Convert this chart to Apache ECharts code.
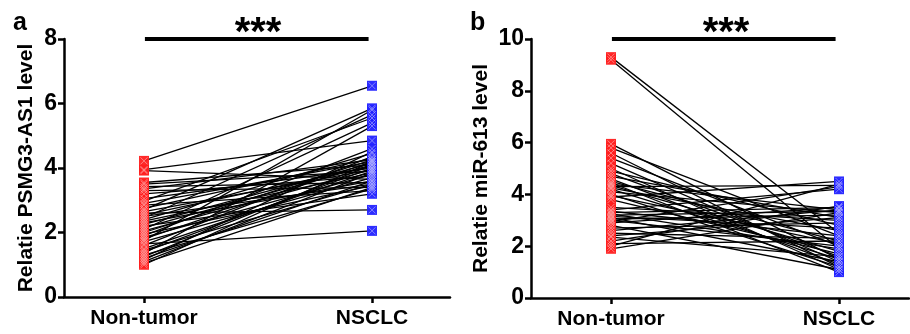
<!DOCTYPE html>
<html>
<head>
<meta charset="utf-8">
<script src="https://cdn.jsdelivr.net/npm/echarts@6/dist/echarts.min.js"></script>
<style>
  html, body { margin: 0; padding: 0; background: #fff; }
  #chart { width: 910px; height: 334px; }
</style>
</head>
<body>
<div id="chart"></div>
<script>
// group labels on the x axis
var groups = ['Non-tumor', 'NSCLC']

// panel a: PSMG3-AS1, paired values (same index = same patient)
var nonTumorA = [4.22, 3.95, 3.92, 3.55, 3.5, 3.42, 3.35, 3.3, 3.2, 3.05, 2.97, 2.9, 2.85, 2.75, 2.7, 2.65,
  2.6, 2.55, 2.5, 2.45, 2.4, 2.35, 2.3, 2.25, 2.2, 2.15, 2.1, 2.05, 2.0, 1.95, 1.9, 1.85, 1.8, 1.75,
  1.72, 1.65, 1.6, 1.5, 1.45, 1.4, 1.35, 1.3, 1.25, 1.2, 1.15, 1.1, 1.05, 1.0]
var nsclcA = [6.55, 4.85, 3.65, 4.1, 3.9, 3.55, 4.25, 3.4, 3.75, 4.0, 5.55, 4.2, 3.3, 4.3, 5.85, 3.95,
  2.7, 4.05, 3.5, 5.65, 4.45, 3.85, 3.6, 4.15, 3.2, 4.1, 5.4, 3.95, 4.25, 3.45, 4.6, 3.8, 4.2, 5.8,
  3.7, 2.05, 4.35, 3.9, 3.5, 4.0, 5.3, 3.35, 4.1, 3.6, 4.5, 3.85, 3.4, 4.2]

// panel b: miR-613
var nonTumorB = [9.3, 9.2, 5.95, 5.8, 5.6, 5.4, 5.2, 5.0, 4.9, 4.8, 4.7, 4.6, 4.5, 4.45, 4.4, 4.35,
  4.3, 4.25, 4.2, 4.1, 4.0, 3.95, 3.9, 3.8, 3.5, 3.4, 3.35, 3.3, 3.25, 3.2, 3.15, 3.1, 3.05, 3.0,
  2.95, 2.9, 2.8, 2.7, 2.6, 2.5, 2.4, 2.35, 2.2, 2.1, 2.0, 1.9]
var nsclcB = [2.5, 1.9, 1.5, 2.4, 1.2, 2.0, 1.4, 1.1, 2.8, 1.6, 3.1, 1.3, 2.2, 1.0, 3.4, 1.8,
  4.35, 2.6, 1.5, 3.3, 1.2, 2.1, 4.5, 1.7, 3.0, 4.2, 2.4, 3.5, 1.9, 3.35, 2.7, 1.4, 3.2, 2.0,
  4.3, 3.5, 1.1, 2.9, 3.4, 2.3, 3.1, 1.6, 3.55, 2.2, 4.4, 3.3]

var yTicksA = [0, 2, 4, 6, 8]
var yTicksB = [0, 2, 4, 6, 8, 10]

var FONT = 'Liberation Sans'
var RED = '#ff1f1f'
var BLUE = '#2222ff'

var chart = echarts.init(document.getElementById('chart'), null, { renderer: 'canvas' })

function xAxisFor(idx, max) {
  return {
    type: 'value',
    gridIndex: idx,
    min: -0.3509,
    max: max,
    splitLine: { show: false },
    axisLine: { show: true, onZero: false, lineStyle: { color: '#000', width: 2.5 } },
    axisTick: { show: true, customValues: [0, 1], length: 6, lineStyle: { color: '#000', width: 2.5 } },
    axisLabel: {
      customValues: [0, 1],
      margin: 11,
      color: '#000',
      fontFamily: FONT,
      fontWeight: 'bold',
      fontSize: 21,
      formatter: function (v) { return groups[Math.round(v)] }
    }
  }
}

function yAxisFor(idx, ticks, name, gap) {
  return {
    type: 'value',
    gridIndex: idx,
    min: 0,
    max: ticks[ticks.length - 1],
    interval: 2,
    name: name,
    nameLocation: 'middle',
    nameGap: gap,
    nameTextStyle: { color: '#000', fontFamily: FONT, fontWeight: 'bold', fontSize: 21 },
    splitLine: { show: false },
    axisLine: { show: true, onZero: false, lineStyle: { color: '#000', width: 2.5 } },
    axisTick: { show: true, length: 6, lineStyle: { color: '#000', width: 2.5 } },
    axisLabel: { margin: 7, color: '#000', fontFamily: FONT, fontWeight: 'bold', fontSize: 23 }
  }
}

// one thin black line per patient
function pairLines(idx, a, b) {
  return a.map(function (v, i) {
    return {
      type: 'line',
      xAxisIndex: idx,
      yAxisIndex: idx,
      data: [[0, v], [1, b[i]]],
      symbol: 'none',
      silent: true,
      z: 2,
      lineStyle: { color: '#000', width: 1.3 }
    }
  })
}

// square marker with an X inside
function markers(idx, x, vals, color, crossColor) {
  var pts = vals.map(function (v) { return [x, v] })
  return [
    {
      type: 'scatter', xAxisIndex: idx, yAxisIndex: idx, data: pts,
      symbol: 'rect', symbolSize: 10, z: 3,
      itemStyle: { color: color, opacity: 0.95 }
    },
    {
      type: 'scatter', xAxisIndex: idx, yAxisIndex: idx, data: pts,
      symbol: 'path://M0,0L10,10M10,0L0,10', symbolSize: 7, z: 4,
      itemStyle: { color: 'rgba(0,0,0,0)', borderColor: crossColor, borderWidth: 0.8 }
    }
  ]
}

function sigBar(idx, y) {
  return {
    type: 'line', xAxisIndex: idx, yAxisIndex: idx,
    data: [[0.004, y], [0.985, y]],
    symbol: 'none', clip: false, z: 5,
    lineStyle: { color: '#000', width: 4 }
  }
}

var series = []
series = series.concat(pairLines(0, nonTumorA, nsclcA))
series = series.concat(pairLines(1, nonTumorB, nsclcB))
series = series.concat(markers(0, 0, nonTumorA, RED, '#ffb0b0'))
series = series.concat(markers(0, 1, nsclcA, BLUE, '#b0b0ff'))
series = series.concat(markers(1, 0, nonTumorB, RED, '#ffb0b0'))
series = series.concat(markers(1, 1, nsclcB, BLUE, '#b0b0ff'))
series.push(sigBar(0, 8))
series.push(sigBar(1, 10))

var option = {
  animation: false,
  backgroundColor: '#fff',
  grid: [
    { left: 64, right: 460, top: 39, bottom: 37 },
    { left: 531, right: 1, top: 39, bottom: 36 }
  ],
  xAxis: [xAxisFor(0, 1.3421), xAxisFor(1, 1.307)],
  yAxis: [
    yAxisFor(0, yTicksA, 'Relatie PSMG3-AS1 level', 27),
    yAxisFor(1, yTicksB, 'Relatie miR-613 level', 39)
  ],
  graphic: [
    { type: 'text', left: 13, top: 11, style: { text: 'a', fontFamily: FONT, fontWeight: 'bold', fontSize: 25, fill: '#000' } },
    { type: 'text', left: 470, top: 11, style: { text: 'b', fontFamily: FONT, fontWeight: 'bold', fontSize: 25, fill: '#000' } },
    { type: 'text', x: 258, y: 34, style: { text: '***', fontFamily: FONT, fontWeight: 'bold', fontSize: 40, fill: '#000', align: 'center', verticalAlign: 'middle' } },
    { type: 'text', x: 726, y: 34, style: { text: '***', fontFamily: FONT, fontWeight: 'bold', fontSize: 40, fill: '#000', align: 'center', verticalAlign: 'middle' } }
  ],
  series: series
}

chart.setOption(option)
</script>
</body>
</html>
